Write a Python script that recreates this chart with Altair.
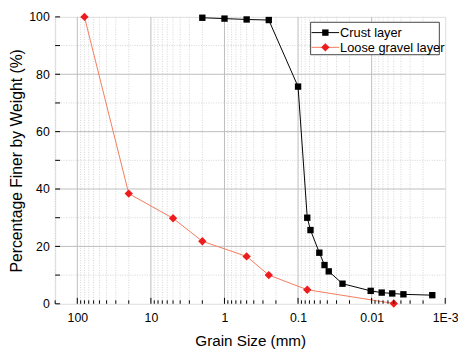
import altair as alt
import pandas as pd

# ---- data ----
series_names = ["Crust layer", "Loose gravel layer"]
crust_size = [2, 1, 0.5, 0.25, 0.1, 0.075, 0.0678, 0.0514, 0.0437, 0.0383,
              0.0249, 0.0103, 0.0073, 0.00525, 0.0037, 0.0015]
crust_pct = [99.7, 99.4, 99.1, 98.9, 75.7, 30.0, 25.7, 17.8, 13.5, 11.3,
             7.0, 4.5, 3.9, 3.6, 3.3, 3.0]
gravel_size = [80, 20, 5, 2, 0.5, 0.25, 0.075, 0.005]
gravel_pct = [100, 38.4, 29.8, 21.8, 16.5, 10.0, 4.9, 0.1]

x_major = [100, 10, 1, 0.1, 0.01, 0.001]
y_major = [0, 20, 40, 60, 80, 100]
y_minor = [10, 30, 50, 70, 90]
line_colors = ["#000000", "#f47a5c"]
point_colors = ["#000000", "#ee1c1c"]
shapes = ["square", "diamond"]
point_sizes = [42, 72]

W, H = 397, 292
FONT = "Liberation Sans"

frames = [
    pd.DataFrame({"size": crust_size, "pct": crust_pct, "series": series_names[0]}),
    pd.DataFrame({"size": gravel_size, "pct": gravel_pct, "series": series_names[1]}),
]

x_minor = [m * d for d in [100, 10, 1, 0.1, 0.01, 0.001] for m in range(2, 10) if m * d <= 200]
grid_x_major = pd.DataFrame({"size": [v for v in x_major if 0.001 < v < 200]})
grid_x_minor = pd.DataFrame({"size": x_minor})
grid_y_major = pd.DataFrame({"pct": [v for v in y_major if 0 < v < 100]})
grid_y_minor = pd.DataFrame({"pct": y_minor})

xscale = alt.Scale(type="log", domain=[0.001, 200], reverse=True, nice=False)
yscale = alt.Scale(domain=[0, 100], nice=False, zero=False)

xaxis = alt.Axis(values=x_major,
                 labelExpr="datum.value < 0.005 ? '1E-3' : format(datum.value, '~g')",
                 title="Grain Size (mm)", titleFont=FONT, titleFontSize=15.5,
                 titleFontWeight="normal", titleColor="black", titlePadding=10,
                 labelFont=FONT, labelFontSize=12.5, labelColor="black",
                 labelPadding=8, ticks=False, domain=False, grid=False,
                 labelFlush=False, labelOverlap=False)
yaxis = alt.Axis(values=y_major, title="Percentage Finer by Weight (%)",
                 titleFont=FONT, titleFontSize=16, titleFontWeight="normal",
                 titleColor="black", titlePadding=4,
                 labelFont=FONT, labelFontSize=12.5, labelColor="black",
                 labelPadding=6, ticks=False, domain=False, grid=False)

X = alt.X("size:Q", scale=xscale, axis=xaxis)
Y = alt.Y("pct:Q", scale=yscale, axis=yaxis)

minor_gx = alt.Chart(grid_x_minor).mark_rule(color="#d4d4d4", strokeWidth=1, strokeDash=[1, 1.5]).encode(x=X)
major_gx = alt.Chart(grid_x_major).mark_rule(color="#bdbdbd", strokeWidth=1).encode(x=X)
minor_gy = alt.Chart(grid_y_minor).mark_rule(color="#d4d4d4", strokeWidth=1, strokeDash=[1, 1.5]).encode(y=Y)
major_gy = alt.Chart(grid_y_major).mark_rule(color="#bdbdbd", strokeWidth=1).encode(y=Y)

series_layers = []
for i, d in enumerate(frames):
    series_layers.append(alt.Chart(d).mark_line(strokeWidth=1, color=line_colors[i]).encode(x=X, y=Y))
for i, d in enumerate(frames):
    series_layers.append(alt.Chart(d).mark_point(filled=True, size=point_sizes[i], opacity=1,
                                                 shape=shapes[i], color=point_colors[i]).encode(x=X, y=Y))

# inward ticks
tick_x_major = alt.Chart(pd.DataFrame({"size": x_major})).mark_rule(color="black", strokeWidth=1).encode(
    x=X, y=alt.value(H), y2=alt.value(H - 6))
tick_x_minor = alt.Chart(pd.DataFrame({"size": x_minor})).mark_rule(color="black", strokeWidth=1).encode(
    x=X, y=alt.value(H), y2=alt.value(H - 3.5))
tick_y = alt.Chart(pd.DataFrame({"pct": y_major + y_minor})).mark_rule(color="black", strokeWidth=1).encode(
    y=Y, x=alt.value(0), x2=alt.value(5))

# legend (drawn by hand to show line + marker)
lx0, lx1, ly0, ly1 = 260, 391, 5.5, 38.5
legend_box = alt.Chart(pd.DataFrame({"a": [0]})).mark_rect(
    fill="white", stroke="#444444", strokeWidth=1).encode(
    x=alt.value(lx0), x2=alt.value(lx1), y=alt.value(ly0), y2=alt.value(ly1))
legend_layers = [legend_box]
row_y = [16, 31]
for i, name in enumerate(series_names):
    d = pd.DataFrame({"label": [name]})
    legend_layers.append(alt.Chart(d).mark_rule(color=line_colors[i], strokeWidth=1).encode(
        x=alt.value(261), x2=alt.value(289), y=alt.value(row_y[i])))
    legend_layers.append(alt.Chart(d).mark_point(filled=True, size=point_sizes[i], opacity=1,
                                                 shape=shapes[i], color=point_colors[i]).encode(
        x=alt.value(275), y=alt.value(row_y[i])))
    legend_layers.append(alt.Chart(d).mark_text(align="left", baseline="middle", font=FONT,
                                                fontSize=13, color="black").encode(
        x=alt.value(290), y=alt.value(row_y[i] + 0.5), text="label:N"))

chart = alt.layer(minor_gx, major_gx, minor_gy, major_gy, *series_layers,
                  tick_x_major, tick_x_minor, tick_y, *legend_layers).properties(
    width=W, height=H,
    autosize=alt.AutoSizeParams(type="none"),
    padding={"left": 48, "top": 6, "right": 13, "bottom": 44},
).configure_view(stroke="black", strokeWidth=1.3).configure(background="white")

chart.save("out.html", embed_options={"renderer": "svg", "actions": False})
